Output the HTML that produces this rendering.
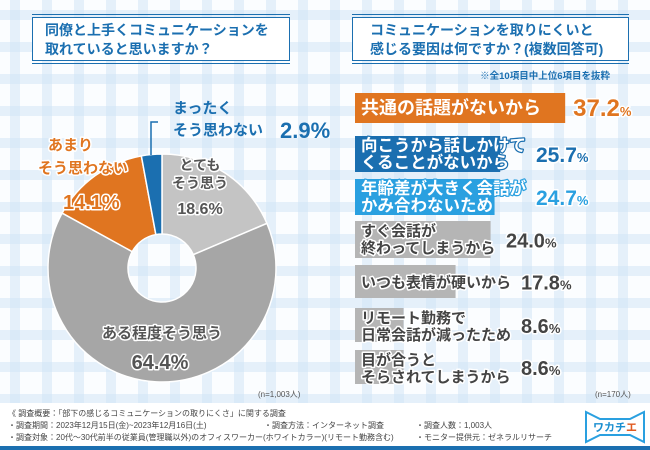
<!DOCTYPE html>
<html><head><meta charset="utf-8"><style>
body{margin:0;width:650px;height:450px;overflow:hidden;background:#fff}
svg{display:block;font-family:"Liberation Sans","Noto Sans CJK JP",sans-serif}
.w{paint-order:stroke;stroke:#fff;stroke-width:3px;stroke-linejoin:round}
</style></head><body>
<svg width="650" height="450" viewBox="0 0 650 450">
<defs>
<pattern id="ging" width="32" height="32" patternUnits="userSpaceOnUse">
<rect width="32" height="32" fill="#fbfdff"/>
<rect x="10" width="10" height="32" fill="#cfe4f6" opacity="0.5"/>
<rect y="10" width="32" height="10" fill="#cfe4f6" opacity="0.5"/>
</pattern>
</defs>
<rect width="650" height="403" fill="url(#ging)"/>
<rect y="403" width="650" height="43" fill="#fff"/>
<rect y="446" width="650" height="4" fill="#1b6fb0"/>

<g>
<line x1="32" y1="14.5" x2="290" y2="14.5" stroke="#1b6fb0" stroke-width="1"/>
<line x1="32" y1="63.5" x2="290" y2="63.5" stroke="#1b6fb0" stroke-width="1"/>
<rect x="32.5" y="17.5" width="257" height="43" fill="#fff" stroke="#1b6fb0" stroke-width="1"/>
<text x="45" y="35" font-size="14" font-weight="bold" fill="#1b6fb0">同僚と上手くコミュニケーションを</text>
<text x="45" y="54" font-size="14" font-weight="bold" fill="#1b6fb0">取れていると思いますか？</text>
</g>
<g>
<line x1="352" y1="14.5" x2="629" y2="14.5" stroke="#1b6fb0" stroke-width="1"/>
<line x1="352" y1="63.5" x2="629" y2="63.5" stroke="#1b6fb0" stroke-width="1"/>
<rect x="352.5" y="17.5" width="276" height="43" fill="#fff" stroke="#1b6fb0" stroke-width="1"/>
<text x="370" y="35" font-size="14" font-weight="bold" fill="#1b6fb0">コミュニケーションを取りにくいと</text>
<text x="370" y="54" font-size="14" font-weight="bold" fill="#1b6fb0">感じる要因は何ですか？(複数回答可)</text>
</g>
<text x="610" y="79" font-size="9.5" font-weight="bold" fill="#1b6fb0" text-anchor="end">※全10項目中上位6項目を抜粋</text>

<g id="donut"></g>
<g>
<text x="200" y="170" font-size="14" font-weight="bold" fill="#555" class="w" text-anchor="middle">とても</text>
<text x="200" y="188" font-size="14" font-weight="bold" fill="#555" class="w" text-anchor="middle">そう思う</text>
<text x="200" y="214" font-size="16" font-weight="bold" fill="#555" class="w" text-anchor="middle">18.6%</text>
<text x="162" y="338" font-size="15" font-weight="bold" fill="#555" class="w" text-anchor="middle">ある程度そう思う</text>
<text x="160" y="369" font-size="20" font-weight="bold" fill="#555" class="w" text-anchor="middle">64.4%</text>
<text x="48" y="150" font-size="15" font-weight="bold" fill="#e07520" class="w">あまり</text>
<text x="38" y="173" font-size="15" font-weight="bold" fill="#e07520" class="w">そう思わない</text>
<text x="63" y="209" font-size="20" font-weight="bold" fill="#e07520" class="w">14.1%</text>
<polyline points="151,155 151,122 158,122" fill="none" stroke="#1b6fb0" stroke-width="1.5"/>
<text x="173" y="113" font-size="15" font-weight="bold" fill="#1b6fb0">まったく</text>
<text x="173" y="135" font-size="15" font-weight="bold" fill="#1b6fb0">そう思わない</text>
<text x="280" y="138" font-size="22" font-weight="bold" fill="#1b6fb0">2.9%</text>
</g>
<text x="258" y="397" font-size="8" fill="#555">(n=1,003人)</text>

<g id="bars"></g>
<text x="595" y="397" font-size="8" fill="#555">(n=170人)</text>

<g font-size="8" fill="#444">
<text x="8" y="416">《 調査概要：「部下の感じるコミュニケーションの取りにくさ」に関する調査</text>
<text x="8" y="428">・調査期間：2023年12月15日(金)~2023年12月16日(土)</text>
<text x="264" y="428">・調査方法：インターネット調査</text>
<text x="416" y="428">・調査人数：1,003人</text>
<text x="8" y="440">・調査対象：20代～30代前半の従業員(管理職以外)のオフィスワーカー(ホワイトカラー)(リモート勤務含む)</text>
<text x="416" y="440">・モニター提供元：ゼネラルリサーチ</text>
</g>
<g>
<path d="M586,412 L600,419 L630,419 L644,412 L644,442 L630,435 L600,435 L586,442 Z" fill="#fff" stroke="#2aa0e0" stroke-width="2"/>
<text x="615" y="431" font-size="11" font-weight="bold" fill="#1b8fd0" text-anchor="middle">ワカチ<tspan fill="#e05a20">エ</tspan></text>
</g>
</svg>
<script>
const donutLabels=["とてもそう思う","ある程度そう思う","あまりそう思わない","まったくそう思わない"];
const donutValues=[18.6,64.4,14.1,2.9];
const donutColors=["#c4c4c4","#a6a6a6","#e07520","#1b6fb0"];
const barLabels=[["共通の話題がないから"],["向こうから話しかけて","くることがないから"],["年齢差が大きく会話が","かみ合わないため"],["すぐ会話が","終わってしまうから"],["いつも表情が硬いから"],["リモート勤務で","日常会話が減ったため"],["目が合うと","そらされてしまうから"]];
const barValues=[37.2,25.7,24.7,24.0,17.8,8.6,8.6];
const barColors=["#e07520","#1b6fb0","#2aa0e0","#b5b5b5","#b5b5b5","#b5b5b5","#b5b5b5"];
const NS="http://www.w3.org/2000/svg";
const cx=162,cy=268,R=114,r0=34;
const dg=document.getElementById('donut');
let total=donutValues.reduce((a,b)=>a+b,0),acc=0;
function pt(a,rr){return [cx+rr*Math.sin(a),cy-rr*Math.cos(a)];}
donutValues.forEach((v,i)=>{
  const a0=acc/total*2*Math.PI; acc+=v; const a1=acc/total*2*Math.PI;
  const lg=(a1-a0)>Math.PI?1:0;
  const [x0,y0]=pt(a0,R),[x1,y1]=pt(a1,R),[x2,y2]=pt(a1,r0),[x3,y3]=pt(a0,r0);
  const p=document.createElementNS(NS,'path');
  p.setAttribute('d',`M${x0},${y0}A${R},${R} 0 ${lg} 1 ${x1},${y1}L${x2},${y2}A${r0},${r0} 0 ${lg} 0 ${x3},${y3}Z`);
  p.setAttribute('fill',donutColors[i]);p.setAttribute('stroke','#fff');p.setAttribute('stroke-width','1.5');
  
  
  dg.appendChild(p);
});
const bg=document.getElementById('bars');
const x0=355,scale=5.65;
const rowY=[93,136,179,221,265,308,350],rowH=[30,36,36,37,33,34,34];
const fs=[18,16.5,16.5,15,15,15,15];
const vfs=[24,21,21,20,20,20,20];
const valColors=["#e07520","#1b6fb0","#2aa0e0","#444","#444","#444","#444"];
function xs(v){return v*scale;}
barValues.forEach((v,i)=>{
  const y=rowY[i],h=rowH[i];
  const rc=document.createElementNS(NS,'rect');
  rc.setAttribute('x',x0);rc.setAttribute('y',y);rc.setAttribute('width',xs(v));rc.setAttribute('height',h);rc.setAttribute('fill',barColors[i]);
  
  
  bg.appendChild(rc);
  const colored=i<3;
  const lines=barLabels[i];
  lines.forEach((ln,j)=>{
    const t=document.createElementNS(NS,'text');
    t.setAttribute('x',361);
    const ty=lines.length===1?y+h/2+6:y+15+j*17;
    t.setAttribute('y',ty);t.setAttribute('font-size',fs[i]);t.setAttribute('font-weight','bold');
    if(colored){t.setAttribute('fill','#fff');t.setAttribute('style','paint-order:stroke;stroke:'+barColors[i]+';stroke-width:2.5px;stroke-linejoin:round');}
    else{t.setAttribute('fill','#444');t.setAttribute('class','w');}
    t.textContent=ln;
    
    
    bg.appendChild(t);
  });
  const lblW=Math.max(...lines.map(l=>l.length))*fs[i]+8;
  const vx=Math.max(x0+xs(v),x0+lblW)+8;
  const vt=document.createElementNS(NS,'text');
  vt.setAttribute('x',vx);vt.setAttribute('y',y+h/2+8);vt.setAttribute('font-size',vfs[i]);vt.setAttribute('font-weight','bold');
  vt.setAttribute('fill',valColors[i]);
  vt.setAttribute('class','w');
  vt.innerHTML=v.toFixed(1)+'<tspan font-size="13">%</tspan>';
  
  
  bg.appendChild(vt);
});
</script>
</body></html>
